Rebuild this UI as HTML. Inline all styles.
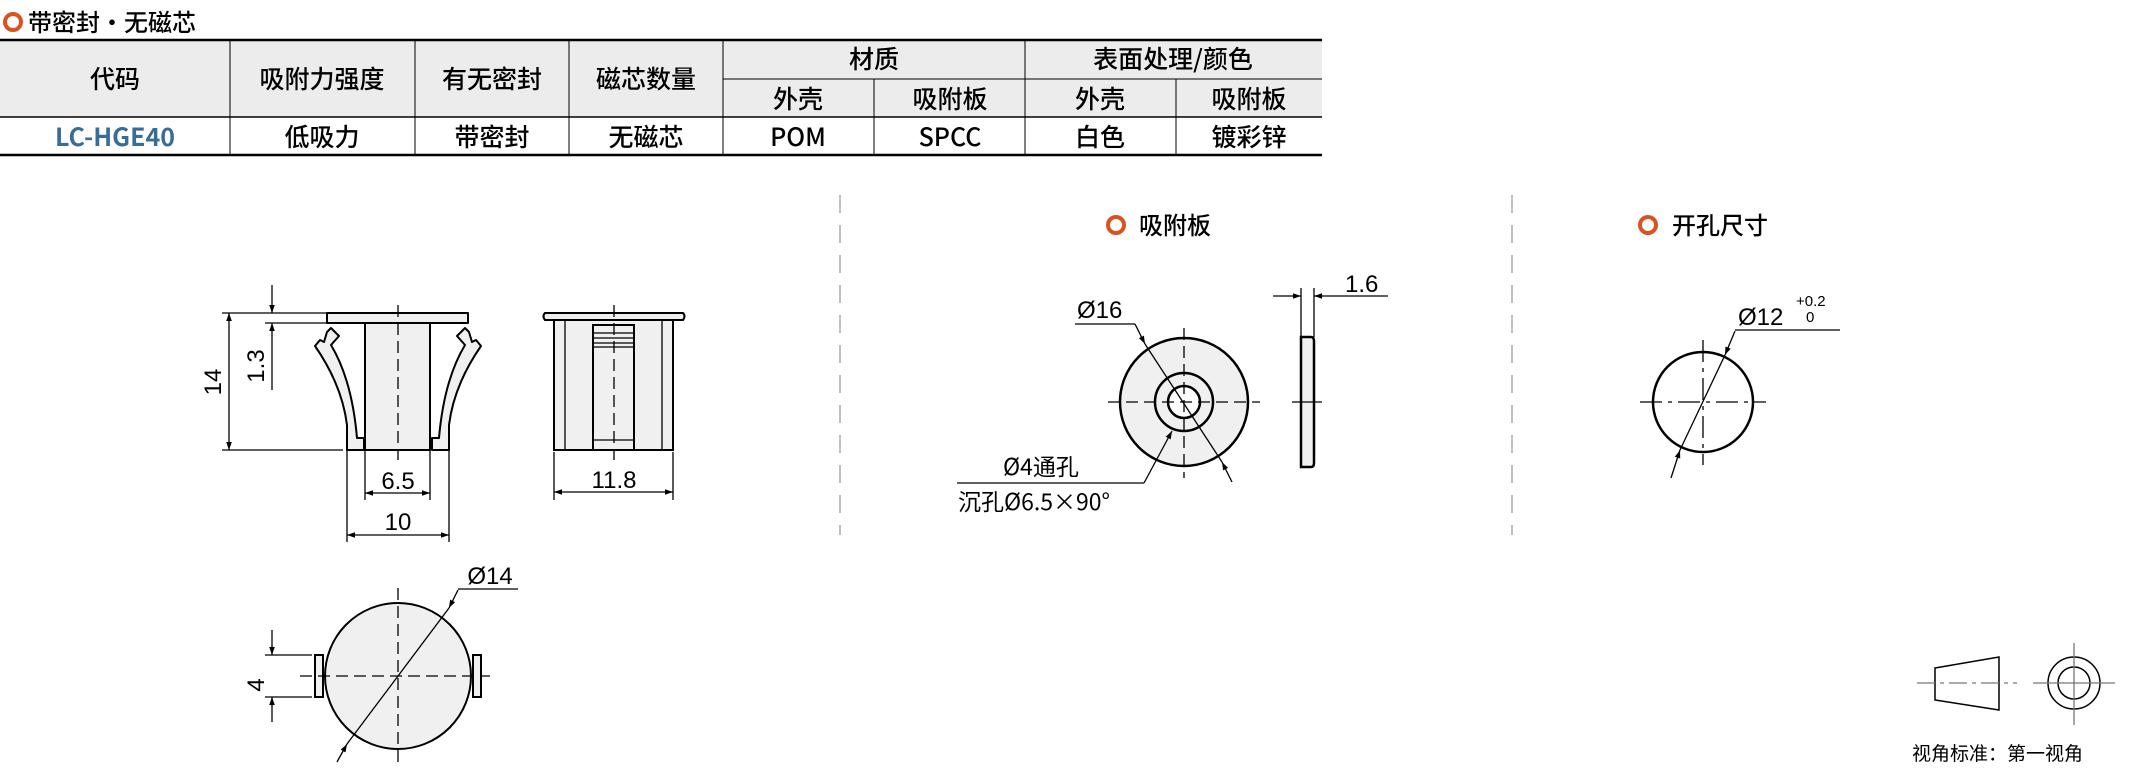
<!DOCTYPE html>
<html><head><meta charset="utf-8"><style>
body{margin:0;background:#fff;}
svg{display:block;font-family:"Liberation Sans","Noto Sans CJK SC",sans-serif;}
.cn{font-family:"Noto Sans CJK SC",sans-serif;}
</style></head><body>
<svg width="2131" height="772" viewBox="0 0 2131 772" xmlns="http://www.w3.org/2000/svg">
<defs>
<marker id="a" viewBox="0 0 10 10" refX="10" refY="5" markerWidth="18" markerHeight="8" markerUnits="userSpaceOnUse" orient="auto-start-reverse"><path d="M0,1.5 L10,5 L0,8.5z" fill="#000"/></marker>
</defs>
<!-- title -->
<circle cx="13" cy="22" r="8" fill="none" stroke="#d9531e" stroke-width="4"/>
<text x="28" y="31" font-size="24" class="cn" font-weight="500">带密封·无磁芯</text>
<!-- table -->
<rect x="0" y="40" width="1322" height="77" fill="#ececec"/>
<g stroke="#000" fill="none">
<line x1="0" y1="40" x2="1322" y2="40" stroke-width="2.5"/>
<line x1="0" y1="117" x2="1322" y2="117" stroke-width="1.5"/>
<line x1="0" y1="155" x2="1322" y2="155" stroke-width="2.5"/>
<line x1="723" y1="79" x2="1322" y2="79" stroke-width="1"/>
<line x1="230" y1="40" x2="230" y2="155"/><line x1="415" y1="40" x2="415" y2="155"/>
<line x1="569" y1="40" x2="569" y2="155"/><line x1="723" y1="40" x2="723" y2="155"/>
<line x1="874" y1="79" x2="874" y2="155"/><line x1="1025" y1="40" x2="1025" y2="155"/>
<line x1="1176" y1="79" x2="1176" y2="155"/>
</g>
<g font-size="25" text-anchor="middle" class="cn" font-weight="500">
<text x="115" y="88">代码</text><text x="322" y="88">吸附力强度</text><text x="492" y="88">有无密封</text><text x="646" y="88">磁芯数量</text>
<text x="874" y="68">材质</text><text x="1173" y="68">表面处理/颜色</text>
<text x="798" y="108">外壳</text><text x="950" y="108">吸附板</text><text x="1100" y="108">外壳</text><text x="1249" y="108">吸附板</text>
<text x="115" y="146" fill="#3a6d96" font-weight="bold">LC-HGE40</text>
<text x="322" y="146">低吸力</text><text x="492" y="146">带密封</text><text x="646" y="146">无磁芯</text>
<text x="798" y="146">POM</text><text x="950" y="146">SPCC</text><text x="1100" y="146">白色</text><text x="1249" y="146">镀彩锌</text>
</g>
<!-- separators -->
<line x1="840" y1="195" x2="840" y2="535" stroke="#aaa" stroke-width="1.5" stroke-dasharray="18,12"/>
<line x1="1512" y1="195" x2="1512" y2="535" stroke="#aaa" stroke-width="1.5" stroke-dasharray="18,12"/>

<!-- front view -->
<g stroke="#000" stroke-width="2" fill="#f0f0f0" stroke-linejoin="round">
<path d="M327,313 L468,313 L468,323 L327,323 Z"/>
<path d="M364,450 L347,450 L347,425 Q342,385 315,346 L320,340 L324,342 L327,332 L331,328 L339,336 L331,345 Q352,380 357,438 L364,438 Z"/>
<path d="M432,450 L449,450 L449,425 Q454,385 481,346 L476,340 L472,342 L469,332 L465,328 L457,336 L465,345 Q444,380 439,438 L432,438 Z"/>
<rect x="365" y="323" width="65" height="127"/>
</g>
<g stroke="#000" stroke-width="1.3" fill="none">
<line x1="398" y1="305" x2="398" y2="460" stroke-dasharray="12,6"/>
<line x1="222" y1="313" x2="327" y2="313"/><line x1="265" y1="323" x2="327" y2="323"/><line x1="222" y1="450" x2="343" y2="450"/>
<line x1="229" y1="313" x2="229" y2="450" marker-start="url(#a)" marker-end="url(#a)"/>
<line x1="272" y1="285" x2="272" y2="313" marker-end="url(#a)"/><line x1="272" y1="390" x2="272" y2="323" marker-end="url(#a)"/>
<line x1="365" y1="450" x2="365" y2="500"/><line x1="430" y1="450" x2="430" y2="500"/>
<line x1="347" y1="450" x2="347" y2="542"/><line x1="449" y1="450" x2="449" y2="542"/>
<line x1="365" y1="493" x2="430" y2="493" marker-start="url(#a)" marker-end="url(#a)"/>
<line x1="347" y1="535" x2="449" y2="535" marker-start="url(#a)" marker-end="url(#a)"/>
</g>
<g font-size="24" text-anchor="middle">
<text x="398" y="489">6.5</text><text x="398" y="530">10</text>
<text transform="translate(221,382) rotate(-90)">14</text>
<text transform="translate(264,366) rotate(-90)">1.3</text>
</g>
<!-- side view -->
<g stroke="#000" stroke-width="2" fill="#f0f0f0">
<path d="M545,313 L683,313 Q686,316 683,320 L545,320 Q542,316 545,313Z"/>
<rect x="554" y="320" width="119" height="130"/>
<rect x="593" y="325" width="41" height="125"/>
</g>
<g stroke="#000" stroke-width="1.3" fill="none">
<line x1="565" y1="320" x2="565" y2="450"/><line x1="662" y1="320" x2="662" y2="450"/>
<line x1="593" y1="333" x2="634" y2="333"/><line x1="593" y1="338" x2="634" y2="338"/><line x1="593" y1="343" x2="634" y2="343"/><line x1="593" y1="347" x2="634" y2="347"/>
<line x1="593" y1="440" x2="634" y2="440"/>
<line x1="614" y1="305" x2="614" y2="460" stroke-dasharray="12,6"/>
<line x1="554" y1="452" x2="554" y2="500"/><line x1="673" y1="452" x2="673" y2="500"/>
<line x1="554" y1="492" x2="673" y2="492" marker-start="url(#a)" marker-end="url(#a)"/>
</g>
<text x="614" y="488" font-size="24" text-anchor="middle">11.8</text>
<!-- bottom view -->
<g stroke="#000" stroke-width="2" fill="#f0f0f0">
<rect x="315" y="655" width="8" height="42"/><rect x="473" y="655" width="8" height="42"/>
<circle cx="398" cy="676" r="73"/>
</g>
<g stroke="#000" stroke-width="1.3" fill="none">
<line x1="398" y1="588" x2="398" y2="765" stroke-dasharray="12,6"/>
<line x1="300" y1="676" x2="490" y2="676" stroke-dasharray="12,6"/>
<line x1="265" y1="655" x2="312" y2="655"/><line x1="265" y1="697" x2="312" y2="697"/>
<line x1="272" y1="630" x2="272" y2="655" marker-end="url(#a)"/><line x1="272" y1="722" x2="272" y2="697" marker-end="url(#a)"/>
<line x1="337" y1="762" x2="347" y2="744" marker-end="url(#a)"/>
<line x1="347" y1="744" x2="449" y2="608"/>
<line x1="458" y1="590" x2="449" y2="608" marker-end="url(#a)"/>
<line x1="458" y1="589" x2="518" y2="589"/>
</g>
<text x="490" y="584" font-size="24" text-anchor="middle">Ø14</text>
<text transform="translate(264,685) rotate(-90)" font-size="24" text-anchor="middle">4</text>

<!-- 吸附板 -->
<circle cx="1116" cy="225" r="8" fill="none" stroke="#d9531e" stroke-width="4"/>
<text x="1139" y="234" font-size="24" class="cn" font-weight="500">吸附板</text>
<g stroke="#000" stroke-width="2.5" fill="#f0f0f0">
<circle cx="1184" cy="402" r="64"/>
<circle cx="1184" cy="402" r="29"/>
<circle cx="1184" cy="402" r="16" fill="#fff"/>
<path d="M1301,337 L1311,337 Q1314,337 1314,341 L1314,463 Q1314,467 1311,467 L1301,467 Z"/>
</g>
<g stroke="#000" stroke-width="1.3" fill="none">
<line x1="1108" y1="402" x2="1260" y2="402" stroke-dasharray="12,6"/>
<line x1="1184" y1="328" x2="1184" y2="478" stroke-dasharray="12,6"/>
<line x1="1292" y1="402" x2="1322" y2="402"/>
<line x1="1301" y1="288" x2="1301" y2="337"/><line x1="1314" y1="288" x2="1314" y2="337"/>
<line x1="1273" y1="296" x2="1301" y2="296" marker-end="url(#a)"/><line x1="1336" y1="296" x2="1314" y2="296" marker-end="url(#a)"/>
<line x1="1336" y1="296" x2="1388" y2="296"/>
<line x1="1075" y1="324" x2="1135" y2="324"/>
<line x1="1135" y1="324" x2="1145" y2="344" marker-end="url(#a)"/>
<line x1="1145" y1="344" x2="1222" y2="462"/>
<line x1="1232" y1="482" x2="1222" y2="462" marker-end="url(#a)"/>
<line x1="957" y1="483" x2="1144" y2="483"/>
<line x1="1144" y1="483" x2="1172" y2="431" marker-end="url(#a)"/>
</g>
<text x="1345" y="292" font-size="24">1.6</text>
<text x="1077" y="318" font-size="24">Ø16</text>
<text x="1003" y="475" font-size="23" class="cn">Ø4通孔</text>
<text x="958" y="510" font-size="23" class="cn">沉孔Ø6.5×90°</text>

<!-- 开孔尺寸 -->
<circle cx="1648" cy="225" r="8" fill="none" stroke="#d9531e" stroke-width="4"/>
<text x="1672" y="234" font-size="24" class="cn" font-weight="500">开孔尺寸</text>
<circle cx="1703" cy="402" r="50" fill="none" stroke="#000" stroke-width="2.5"/>
<g stroke="#000" stroke-width="1.3" fill="none">
<line x1="1640" y1="402" x2="1766" y2="402" stroke-dasharray="22,6,4,6"/>
<line x1="1703" y1="340" x2="1703" y2="465" stroke-dasharray="22,6,4,6"/>
<line x1="1671" y1="478" x2="1680" y2="450" marker-end="url(#a)"/>
<line x1="1680" y1="450" x2="1725" y2="355"/>
<line x1="1735" y1="331" x2="1725" y2="355" marker-end="url(#a)"/>
<line x1="1735" y1="330" x2="1840" y2="330"/>
</g>
<text x="1738" y="325" font-size="24">Ø12</text>
<text x="1796" y="306" font-size="15">+0.2</text>
<text x="1806" y="322" font-size="15">0</text>

<!-- view symbol -->
<g stroke="#000" stroke-width="1.5" fill="none">
<path d="M1935,668 L1999,657 L1999,710 L1935,700 Z"/>
<circle cx="2074" cy="683" r="26"/><circle cx="2074" cy="683" r="16"/>
</g>
<g stroke="#777" stroke-width="1.3">
<line x1="1917" y1="683" x2="2017" y2="683" stroke-dasharray="18,5,4,5"/>
<line x1="2033" y1="683" x2="2115" y2="683"/><line x1="2074" y1="643" x2="2074" y2="725"/>
</g>
<text x="1912" y="760" font-size="19" class="cn">视角标准：第一视角</text>
</svg>
</body></html>
